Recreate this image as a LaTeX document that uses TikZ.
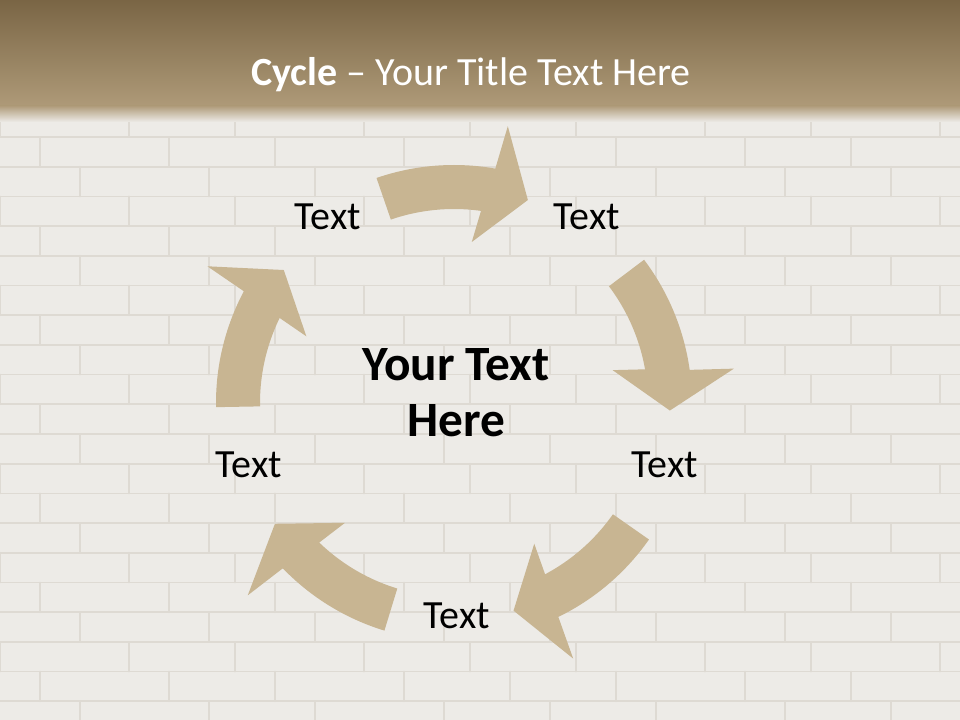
\documentclass[tikz,border=0pt]{standalone}
\usepackage{fontspec}
\setmainfont{Carlito}
\definecolor{bgc}{HTML}{EDEBE7}
\definecolor{mortar}{HTML}{DEDAD3}
\definecolor{hdtop}{HTML}{7A6545}
\definecolor{hdbot}{HTML}{AE9A78}
\definecolor{arrowc}{HTML}{C8B592}
\tikzset{
  lbl/.style={anchor=base, font=\fontsize{30}{36}\selectfont, text=black, inner sep=0pt},
  ctr/.style={anchor=base, font=\bfseries\fontsize{37}{42}\selectfont, text=black, inner sep=0pt},
  cyc/.style={fill=arrowc, draw=none},
  brickline/.style={draw=mortar, line width=1.3pt, line cap=round}
}
\begin{document}
\begin{tikzpicture}[x=0.75pt,y=-0.75pt]
\useasboundingbox (0,0) rectangle (960,720);
\fill[bgc] (0,0) rectangle (960,720);
% brick wall
\foreach \k in {0,...,20} {
  \pgfmathsetmacro\yy{137+29.7*\k}
  \draw[brickline] (0,\yy) -- (960,\yy);
  \pgfmathsetmacro\off{mod(\k,3)*40}
  \foreach \i in {0,...,9} {
    \pgfmathsetmacro\xx{\off+\i*115+mod(\i*37,23)}
    \draw[brickline] (\xx,\yy) -- (\xx,\yy-29.7);
  }
}
% header band
\shade[top color=hdtop, bottom color=hdbot] (0,0) rectangle (960,106);
\shade[top color=hdbot, bottom color=bgc] (0,105.5) rectangle (960,122);
\node[anchor=base, text=white, font=\fontsize{30}{36}\selectfont, inner sep=0pt] (title) at (471,86) {\textbf{Cycle} – Your Title Text Here};
% cycle arrows
\begin{scope}[shift={(454,403)}, yscale=-1]
\foreach \t in {70,-2,-74,-146,-218} {
  \pgfmathsetmacro\ta{\t+39}
  \pgfmathsetmacro\tb{\t+10}
  \pgfmathsetmacro\tc{\t+9}
  \pgfmathsetmacro\td{\t+13.7}
  \pgfmathsetmacro\te{\t+12}
  \fill[cyc] plot[domain=\ta:\tb, samples=30] (\x:238) -- (\tc:282) -- (\t:216) -- (\td:162) -- plot[domain=\te:\ta, samples=30] (\x:194) -- cycle;
}
\end{scope}
% labels
\node[lbl] (t1) at (328,230) {Text};
\node[lbl] (t2) at (587,230) {Text};
\node[lbl] (t3) at (665,477) {Text};
\node[lbl] (t4) at (457,628) {Text};
\node[lbl] (t5) at (249,477) {Text};
\node[ctr] (c1) at (456,380) {Your Text};
\node[ctr] (c2) at (456,436) {Here};
\end{tikzpicture}
\end{document}
